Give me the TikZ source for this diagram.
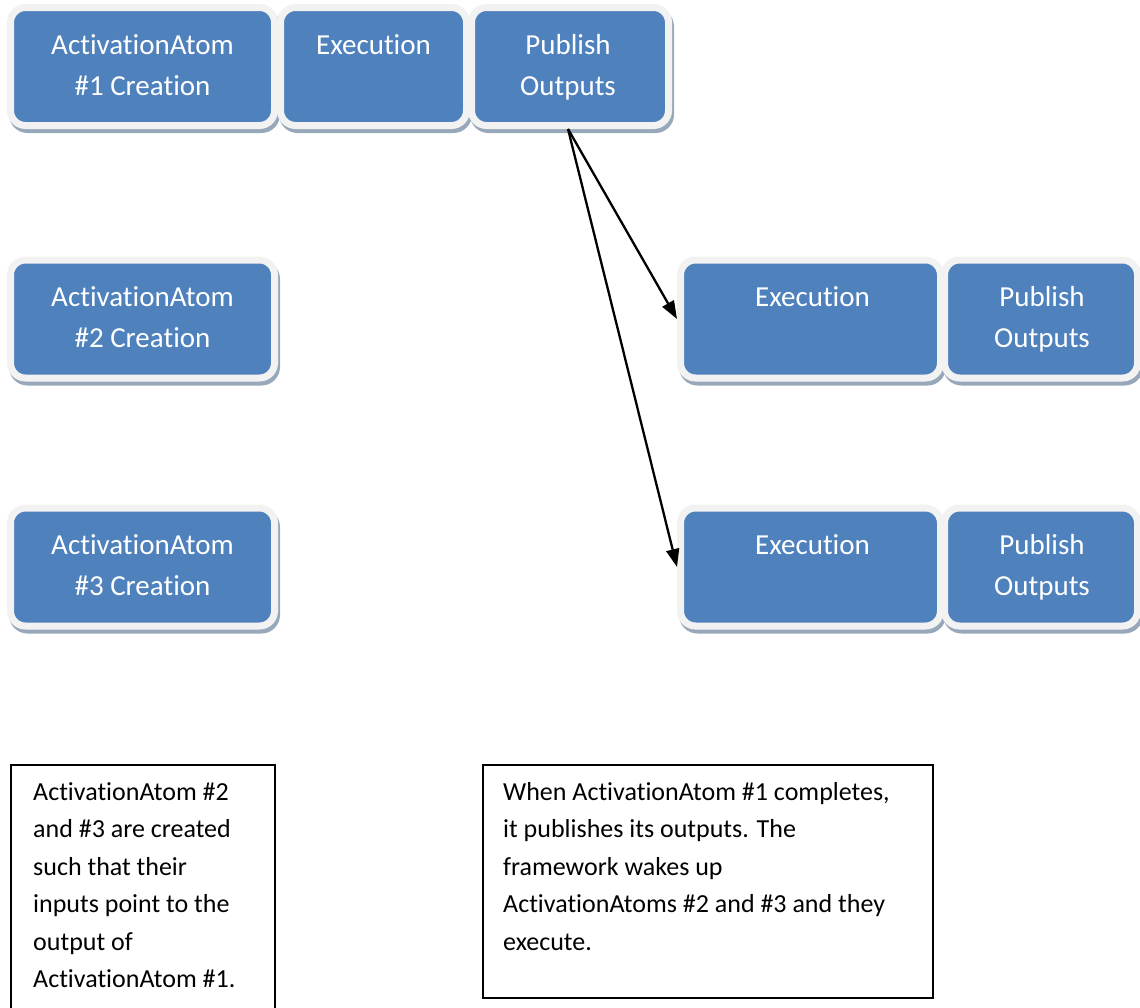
\documentclass[tikz,border=0pt]{standalone}
\usepackage{fontspec}
\setmainfont{Carlito}[Ligatures=NoCommon]
\usetikzlibrary{arrows.meta,calc}

\definecolor{stageblue}{HTML}{4F81BD}
\definecolor{stagerim}{HTML}{F2F2F2}
\definecolor{stageshade}{HTML}{98A8BB}

\tikzset{
  stage/.style={draw=stagerim, line width=7pt, fill=stageblue,
    rounded corners=15pt, inner sep=0pt, minimum height=118pt,
    preaction={draw=stageshade, fill=stageshade,
      transform canvas={shift={(2pt,-4pt)}}}},
  stagetext/.style={text=white, font=\fontsize{29}{41}\selectfont,
    align=center, inner sep=0pt, anchor=base},
  note/.style={draw=black, line width=1.6pt},
  notetext/.style={font=\fontsize{26}{37.5}\selectfont, align=left,
    anchor=base west, inner sep=0pt},
  wake/.style={line width=2.3pt, -{Triangle[length=18pt,width=13pt]}}
}

\begin{document}
\begin{tikzpicture}[x=1pt,y=-1pt]
  \useasboundingbox (0,0) rectangle (1140,1007);
  \fill[white] (0,0) rectangle (1140,1007);
  \clip (0,0) rectangle (1140,1007);

  % ActivationAtom #1: creation, execution, publishing
  \node[stage, minimum width=264pt] (a1) at (142.5,66.5) {};
  \node[stage, minimum width=186pt] (x1) at (373.5,66.5) {};
  \node[stage, minimum width=197pt] (p1) at (570,66.5) {};

  % ActivationAtom #2
  \node[stage, minimum width=264pt] (a2) at (142.5,319) {};
  \node[stage, minimum width=260pt] (x2) at (810.5,319) {};
  \node[stage, minimum width=193pt] (p2) at (1041,319) {};

  % ActivationAtom #3
  \node[stage, minimum width=264pt] (a3) at (142.5,567) {};
  \node[stage, minimum width=260pt] (x3) at (810.5,567) {};
  \node[stage, minimum width=193pt] (p3) at (1041,567) {};

  % stage labels; a node's base anchor is the baseline of its last line
  \node[stagetext] (a1t) at ($(a1)+(0,28.5)$) {ActivationAtom\\\#1 Creation};
  \node[stagetext] (x1t) at ($(x1)+(0,-12.5)$) {Execution};
  \node[stagetext] (p1t) at ($(p1)+(-2,28.5)$) {Publish\\Outputs};
  \node[stagetext] (a2t) at ($(a2)+(0,28)$) {ActivationAtom\\\#2 Creation};
  \node[stagetext] (x2t) at ($(x2)+(2,-13)$) {Execution};
  \node[stagetext] (p2t) at ($(p2)+(1,28)$) {Publish\\Outputs};
  \node[stagetext] (a3t) at ($(a3)+(0,28)$) {ActivationAtom\\\#3 Creation};
  \node[stagetext] (x3t) at ($(x3)+(2,-13)$) {Execution};
  \node[stagetext] (p3t) at ($(p3)+(1,28)$) {Publish\\Outputs};

  % outputs of #1 wake up #2 and #3
  \draw[wake] ([xshift=-2pt]p1.south) -- (x2.west);
  \draw[wake] ([xshift=-2pt]p1.south) -- (x3.west);

  % explanatory notes (last baselines: 800 + (lines-1) * 37.5)
  \draw[note] (11,765) rectangle (275,1030);
  \coordinate (n1) at (33,987.5);
  \node[notetext] (n1t) at (n1) {ActivationAtom \#2\\and \#3 are created\\such that their\\inputs point to the\\output of\\ActivationAtom \#1.};

  \draw[note] (483,765) rectangle (933,998);
  \coordinate (n2) at (503,950);
  \node[notetext] (n2t) at (n2) {When ActivationAtom \#1 completes,\\it publishes its outputs. The\\framework wakes up\\ActivationAtoms \#2 and \#3 and they\\execute.};
\end{tikzpicture}
\end{document}
